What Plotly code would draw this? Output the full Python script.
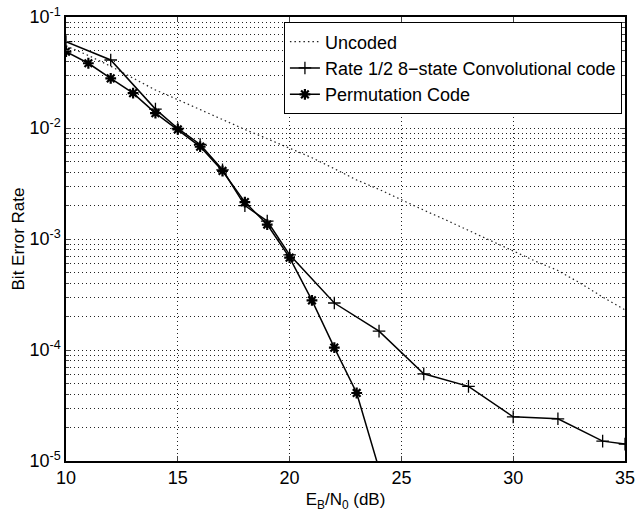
import plotly.graph_objects as go

# Uncoded (dotted)
unc_x = [10, 11, 12, 13, 14, 15, 16, 17, 18, 19, 20, 21, 22, 23, 24, 25, 26, 27, 28, 29, 30, 31, 32, 33, 34, 35]
unc_y = [0.055, 0.045, 0.036, 0.028, 0.022, 0.018, 0.0146, 0.0118, 0.0097, 0.0080, 0.0066, 0.0054, 0.0043, 0.0034, 0.0028, 0.00224,
         0.00182, 0.00148, 0.00120, 0.00097, 0.00079, 0.00063, 0.00052, 0.00040, 0.00030, 0.00023]

# Rate 1/2 8-state convolutional code
conv_x = [10, 12, 14, 15, 16, 17, 18, 19, 20, 22, 24, 26, 28, 30, 32, 34, 35]
conv_y = [0.060, 0.041, 0.0148, 0.0099, 0.0071, 0.0042, 0.0020, 0.00145, 0.00072, 0.000265, 0.000148,
          0.000061, 0.000047, 0.000025, 0.000024, 0.0000151, 0.0000142]

# Permutation code
perm_x = [10, 11, 12, 13, 14, 15, 16, 17, 18, 19, 20, 21, 22, 23, 24]
perm_y = [0.0488, 0.0383, 0.028, 0.0206, 0.0136, 0.0097, 0.0068, 0.0041, 0.00215, 0.00135, 0.00068,
          0.00028, 0.000105, 0.000041, 0.0000085]

x_ticks = [10, 15, 20, 25, 30, 35]
y_ticks = [1e-5, 1e-4, 1e-3, 1e-2, 1e-1]
y_ticktext = ["10<sup>-5</sup>", "10<sup>-4</sup>", "10<sup>-3</sup>", "10<sup>-2</sup>", "10<sup>-1</sup>"]
y_minor = [m * d for d in [1e-5, 1e-4, 1e-3, 1e-2] for m in range(2, 10)]

font_family = "Liberation Sans, Arial, Helvetica, sans-serif"
dotdash = "1px,3px"
gridcol = "#222222"

fig = go.Figure()
fig.add_trace(go.Scatter(x=unc_x, y=unc_y, mode="lines", name="Uncoded",
                         line=dict(color="#222222", width=1.2, dash="1.5px,3px")))
fig.add_trace(go.Scatter(x=conv_x, y=conv_y, mode="lines+markers",
                         name="Rate 1/2 8\u2212state Convolutional code",
                         line=dict(color="black", width=1.5),
                         marker=dict(symbol="cross-thin-open", size=9, color="black",
                                     line=dict(color="black", width=1.3))))
fig.add_trace(go.Scatter(x=perm_x, y=perm_y, mode="lines+markers", name="Permutation Code",
                         line=dict(color="black", width=1.5),
                         marker=dict(symbol="asterisk-open", size=9, color="black",
                                     line=dict(color="black", width=2.2))))

fig.update_layout(
    width=636, height=512,
    margin=dict(l=66, r=11, t=17, b=51, autoexpand=False),
    paper_bgcolor="white", plot_bgcolor="white",
    font=dict(family=font_family, size=16, color="black"),
    showlegend=True,
    legend=dict(x=0.9945, y=0.988, xanchor="right", yanchor="top",
                bgcolor="white", bordercolor="black", borderwidth=1,
                font=dict(size=18), tracegroupgap=0, itemwidth=30),
    xaxis=dict(range=[10, 35], tickvals=x_ticks, ticks="inside", ticklen=5,
               showline=True, linecolor="black", linewidth=1.5, mirror="ticks",
               showgrid=True, zeroline=False, automargin=False,
               gridcolor=gridcol, griddash=dotdash, gridwidth=1,
               title=dict(text="E<sub>B</sub>/N<sub>0</sub> (dB)", standoff=6, font=dict(size=17)),
               tickfont=dict(size=18)),
    yaxis=dict(type="log", range=[-5, -1], tickvals=y_ticks, ticktext=y_ticktext,
               ticks="inside", ticklen=5,
               showline=True, linecolor="black", linewidth=1.5, mirror="ticks",
               showgrid=True, zeroline=False, automargin=False,
               gridcolor=gridcol, griddash=dotdash, gridwidth=1,
               minor=dict(tickvals=y_minor, ticks="inside", ticklen=3, showgrid=True,
                          gridcolor=gridcol, griddash=dotdash, gridwidth=1),
               title=dict(text="Bit Error Rate", standoff=0, font=dict(size=17)),
               tickfont=dict(size=18)),
)

fig.write_html("out.html", config={"displayModeBar": False},
               post_script="document.body.style.margin='0';")
